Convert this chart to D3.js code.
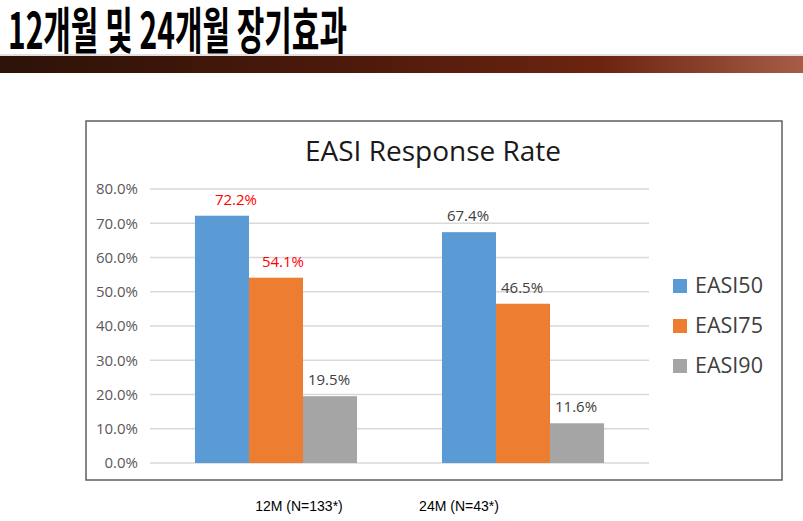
<!DOCTYPE html>
<html>
<head>
<meta charset="utf-8">
<script src="https://cdn.jsdelivr.net/npm/d3@7"></script>
<style>
  body { margin: 0; background: #fff; }
  svg { display: block; }
</style>
</head>
<body>
<div id="chart"></div>
<script>
// données
const pageTitle = "12개월 및 24개월 장기효과";
const chartTitle = "EASI Response Rate";
const categories = ["12M", "24M"];
const categoryLabels = ["12M (N=133*)", "24M (N=43*)"];
const series = ["EASI50", "EASI75", "EASI90"];
const easi50 = [72.2, 67.4];
const easi75 = [54.1, 46.5];
const easi90 = [19.5, 11.6];
const highlighted = [[true, true, false], [false, false, false]]; // labels en rouge
const yTicks = [0, 10, 20, 30, 40, 50, 60, 70, 80];

const values = [easi50, easi75, easi90];
const colors = ["#5b9bd5", "#ed7d31", "#a5a5a5"];

const W = 803, H = 521;
const svg = d3.select("#chart").append("svg").attr("width", W).attr("height", H);

// bandeau du haut
const grad = svg.append("defs").append("linearGradient").attr("id", "band");
grad.append("stop").attr("offset", "0%").attr("stop-color", "#2c1208");
grad.append("stop").attr("offset", "45%").attr("stop-color", "#4e1a0c");
grad.append("stop").attr("offset", "75%").attr("stop-color", "#6c2410");
grad.append("stop").attr("offset", "100%").attr("stop-color", "#a65c46");

// titre de la diapo : police condensée -> on étire/compresse avec un scale
const head = svg.append("text")
  .attr("font-family", "'Noto Sans CJK KR'")
  .attr("font-weight", 700)
  .attr("font-size", 50)
  .attr("fill", "#000")
  .text(pageTitle);
const natW = head.node().getComputedTextLength();
const sx = 339 / natW;
head.attr("transform", "translate(8,49) scale(" + sx + ",1)");

svg.append("line").attr("x1", 0).attr("x2", W).attr("y1", 55).attr("y2", 55)
  .attr("stroke", "#c8c0bc").attr("stroke-width", 1);
svg.append("rect").attr("x", 0).attr("y", 56).attr("width", W).attr("height", 17)
  .attr("fill", "url(#band)");

// cadre du graphique
svg.append("rect")
  .attr("x", 86).attr("y", 121).attr("width", 696).attr("height", 359)
  .attr("fill", "#fff").attr("stroke", "#5f5f5f").attr("stroke-width", 1.5);

svg.append("text")
  .attr("x", 433).attr("y", 161)
  .attr("text-anchor", "middle")
  .attr("font-family", "'Open Sans'")
  .attr("font-size", 28)
  .attr("fill", "#1a1a1a")
  .text(chartTitle);

const plot = { left: 150, right: 649, top: 189, bottom: 463 };

const y = d3.scaleLinear().domain([0, 80]).range([plot.bottom, plot.top]);
const x0 = d3.scaleBand().domain(categories).range([plot.left, plot.right]).paddingInner(0.344).paddingOuter(0.182);
const x1 = d3.scaleBand().domain(series).range([0, x0.bandwidth()]);

// grille
svg.append("g").selectAll("line").data(yTicks).enter().append("line")
  .attr("x1", plot.left).attr("x2", plot.right)
  .attr("y1", d => y(d)).attr("y2", d => y(d))
  .attr("stroke", "#d9d9d9").attr("stroke-width", 1.3);

// axe y
const yAxis = svg.append("g")
  .attr("transform", "translate(138,0)")
  .call(d3.axisLeft(y).tickValues(yTicks).tickSize(0).tickPadding(0).tickFormat(d => d3.format(".1f")(d) + "%"));
yAxis.select(".domain").remove();
yAxis.selectAll("text")
  .attr("font-family", "'Open Sans'")
  .attr("font-size", 15)
  .attr("fill", "#595959");

// barres
const groups = svg.append("g").selectAll("g").data(categories).enter().append("g")
  .attr("transform", d => "translate(" + x0(d) + ",0)");

groups.selectAll("rect")
  .data((c, ci) => series.map((s, si) => ({ s: s, v: values[si][ci], ci: ci, si: si })))
  .enter().append("rect")
  .attr("x", d => x1(d.s))
  .attr("y", d => y(d.v))
  .attr("width", x1.bandwidth())
  .attr("height", d => y(0) - y(d.v))
  .attr("fill", d => colors[d.si]);

groups.selectAll("text")
  .data((c, ci) => series.map((s, si) => ({ s: s, v: values[si][ci], ci: ci, si: si })))
  .enter().append("text")
  .attr("x", d => x1(d.s) + x1.bandwidth() / 2 + (highlighted[d.ci][d.si] ? (d.si === 0 ? 14 : 7) : -1))
  .attr("y", d => y(d.v) - 11)
  .attr("text-anchor", "middle")
  .attr("font-family", "'Open Sans'")
  .attr("font-size", 15)
  .attr("fill", d => highlighted[d.ci][d.si] ? "#ff0000" : "#404040")
  .text(d => d3.format(".1f")(d.v) + "%");

// légende
const legend = svg.append("g").selectAll("g").data(series).enter().append("g")
  .attr("transform", (d, i) => "translate(673," + (279 + i * 40) + ")");
legend.append("rect").attr("width", 14).attr("height", 14).attr("fill", (d, i) => colors[i]);
legend.append("text")
  .attr("x", 22).attr("y", 14)
  .attr("font-family", "'Open Sans'")
  .attr("font-size", 21.5)
  .attr("fill", "#404040")
  .text(d => d);

// libellés des catégories (texte de la diapo, sous le cadre)
const labelX = [299, 459];
svg.append("g").selectAll("text").data(categoryLabels).enter().append("text")
  .attr("x", (d, i) => labelX[i]).attr("y", 511)
  .attr("text-anchor", "middle")
  .attr("font-family", "'Liberation Sans', Arial")
  .attr("font-size", 14)
  .attr("fill", "#000")
  .text(d => d);
</script>
</body>
</html>
